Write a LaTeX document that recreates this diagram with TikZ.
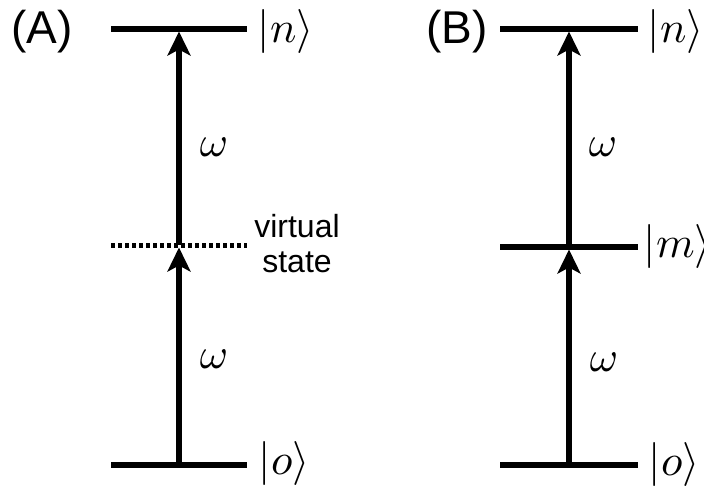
\RequirePackage{fix-cm}
\documentclass[tikz,border=0pt]{standalone}
\usepackage{fontspec}
\setsansfont{Liberation Sans}
\usetikzlibrary{arrows.meta}
\begin{document}
\begin{tikzpicture}[x=1pt,y=-1pt,
  level/.style={line width=5.5pt},
  virt/.style={line width=5pt, dash pattern=on 4pt off 3pt},
  trans/.style={line width=6pt, -{Stealth[length=24pt,width=23pt,inset=6pt]}, shorten >=2.5pt},
  ket/.style={font=\fontsize{10}{10}\selectfont, scale=4.4, anchor=west, inner sep=0pt},
  freq/.style={font=\fontsize{10}{10}\selectfont, scale=4.3, inner sep=0pt},
  panel/.style={font=\sffamily\fontsize{46}{46}\selectfont, inner sep=0pt},
  note/.style={font=\sffamily\fontsize{32}{35}\selectfont, align=center, inner sep=0pt}]
\useasboundingbox (0,0) rectangle (704,489);
% panel A
\coordinate (AnL) at (111,29);  \coordinate (AnR) at (247,29);
\coordinate (AvL) at (111,245); \coordinate (AvR) at (247,245);
\coordinate (AoL) at (111,465); \coordinate (AoR) at (247,465);
\coordinate (An) at (179,29); \coordinate (Av) at (179,245); \coordinate (Ao) at (179,465);
\draw[level] (AnL) -- (AnR);
\draw[virt] (AvL) -- (AvR);
\draw[level] (AoL) -- (AoR);
\draw[trans] (Ao) -- (Av);
\draw[trans] (Av) -- (An);
\node[panel] (labA) at (42,32) {(A)};
\node[ket] (ketAn) at (257,32) {$|n\rangle$};
\node[ket] (ketAo) at (258,463.5) {$|o\rangle$};
\node[freq] (wA1) at (214,147) {$\omega$};
\node[freq] (wA2) at (214,359) {$\omega$};
\node[note] (virtual) at (297,244) {virtual\\state};
% panel B
\coordinate (BnL) at (500,29);  \coordinate (BnR) at (638,29);
\coordinate (BmL) at (500,247); \coordinate (BmR) at (638,247);
\coordinate (BoL) at (500,465); \coordinate (BoR) at (638,465);
\coordinate (Bn) at (569,29); \coordinate (Bm) at (569,247); \coordinate (Bo) at (569,465);
\draw[level] (BnL) -- (BnR);
\draw[level] (BmL) -- (BmR);
\draw[level] (BoL) -- (BoR);
\draw[trans] (Bo) -- (Bm);
\draw[trans] (Bm) -- (Bn);
\node[panel] (labB) at (457,32) {(B)};
\node[ket] (ketBn) at (647,32) {$|n\rangle$};
\node[ket] (ketBm) at (643,247) {$|m\rangle$};
\node[ket] (ketBo) at (648,464) {$|o\rangle$};
\node[freq] (wB1) at (603,147) {$\omega$};
\node[freq] (wB2) at (604,362) {$\omega$};
\end{tikzpicture}
\end{document}
